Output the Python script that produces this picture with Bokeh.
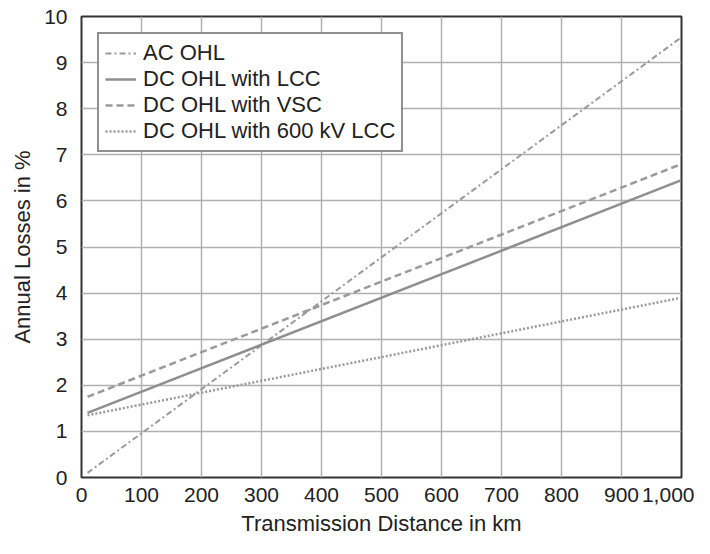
from bokeh.plotting import figure
from bokeh.models import Legend, LegendItem, NumeralTickFormatter, FixedTicker, Range1d
from bokeh.embed import file_html
from bokeh.resources import INLINE

distance = [10, 1000]
ac_ohl = [0.1, 9.55]
dc_lcc = [1.4, 6.45]
dc_vsc = [1.75, 6.8]
dc_600 = [1.35, 3.9]

x_ticks = [0, 100, 200, 300, 400, 500, 600, 700, 800, 900, 1000]
y_ticks = [0, 1, 2, 3, 4, 5, 6, 7, 8, 9, 10]

FONT = "Liberation Sans"

p = figure(width=694, height=538, output_backend="svg", toolbar_location=None,
           x_range=Range1d(0, 1000), y_range=Range1d(0, 10),
           min_border_left=81, min_border_top=16, min_border_right=13, min_border_bottom=56)

p.outline_line_color = "#333333"
p.outline_line_width = 2
p.background_fill_color = "white"
p.border_fill_color = "white"

for ax in (p.xaxis[0], p.yaxis[0]):
    ax.axis_line_color = None
    ax.major_tick_line_color = None
    ax.minor_tick_line_color = None
    ax.major_label_text_font = FONT
    ax.major_label_text_font_size = "21px"
    ax.major_label_text_color = "#222222"
    ax.axis_label_text_font = FONT
    ax.axis_label_text_font_size = "22px"
    ax.axis_label_text_font_style = "normal"
    ax.axis_label_text_color = "#222222"

p.xaxis.ticker = FixedTicker(ticks=x_ticks)
p.yaxis.ticker = FixedTicker(ticks=y_ticks)
p.xaxis.formatter = NumeralTickFormatter(format="0,0")
p.xaxis.axis_label = "Transmission Distance in km"
p.yaxis.axis_label = "Annual Losses in %"
p.xaxis.major_label_standoff = 4
p.yaxis.major_label_standoff = 8
p.xaxis.axis_label_standoff = 6
p.yaxis.axis_label_standoff = 6

p.xgrid.grid_line_color = "#b0b0b0"
p.ygrid.grid_line_color = "#b0b0b0"
p.xgrid.grid_line_width = 1.5
p.ygrid.grid_line_width = 1.5

c = "#9a9a9a"
r1 = p.line(distance, ac_ohl, line_color=c, line_width=2, line_dash="6 3 2 3")
r2 = p.line(distance, dc_lcc, line_color="#8f8f8f", line_width=2.5)
r3 = p.line(distance, dc_vsc, line_color=c, line_width=2.5, line_dash="7 4")
r4 = p.line(distance, dc_600, line_color=c, line_width=2.5, line_dash="2 2")

legend = Legend(items=[
    LegendItem(label="AC OHL", renderers=[r1]),
    LegendItem(label="DC OHL with LCC", renderers=[r2]),
    LegendItem(label="DC OHL with VSC", renderers=[r3]),
    LegendItem(label="DC OHL with 600 kV LCC", renderers=[r4]),
], location="top_left")
legend.label_text_font = FONT
legend.label_text_font_size = "22px"
legend.label_text_color = "#222222"
legend.glyph_width = 31
legend.glyph_height = 22
legend.label_standoff = 7
legend.label_height = 22
legend.spacing = 0
legend.padding = 6
legend.margin = 16
legend.border_line_color = "#222222"
legend.border_line_width = 2
legend.background_fill_alpha = 1
p.add_layout(legend, "center")

open("out.html", "w").write(file_html(p, INLINE))
